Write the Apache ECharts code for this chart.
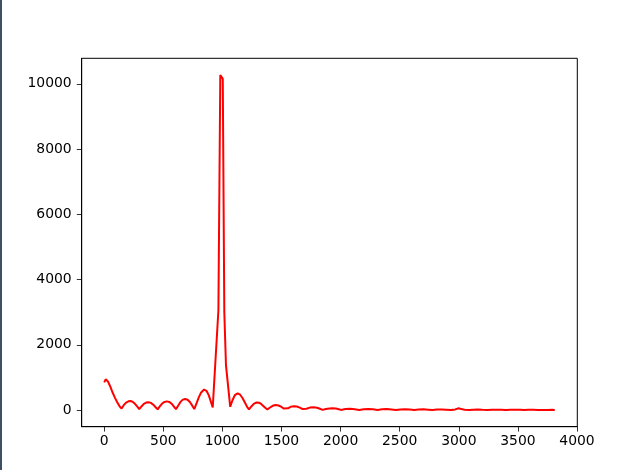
<!DOCTYPE html>
<html>
<head>
<meta charset="utf-8">
<script src="https://cdn.jsdelivr.net/npm/echarts@6/dist/echarts.min.js"></script>
<style>
  html, body { margin: 0; padding: 0; background: #ffffff; }
  #chart { width: 618px; height: 470px; }
</style>
</head>
<body>
<div id="chart"></div>
<script>
// Frequency axis values (x)
var freq = [
  0, 12, 30, 50, 70, 90, 110, 130, 147,
  165, 185, 205, 222, 240, 260, 280, 296,
  315, 335, 355, 374, 395, 415, 435, 452,
  470, 490, 510, 530, 550, 570, 590, 607,
  625, 645, 665, 685, 705, 725, 745, 762,
  780, 800, 820, 845, 865, 885, 905, 918,
  966, 982, 1003, 1016, 1030, 1066,
  1085, 1105, 1129, 1150, 1170, 1190, 1210, 1225,
  1245, 1265, 1290, 1310, 1330, 1355, 1380,
  1400, 1425, 1450, 1475, 1500, 1520, 1535,
  1555, 1580, 1605, 1630, 1655, 1675, 1690,
  1710, 1740, 1770, 1800, 1825, 1848,
  1875, 1905, 1930, 1960, 1985, 2003,
  2040, 2080, 2120, 2158, 2195, 2235, 2275, 2313,
  2350, 2390, 2430, 2468, 2505, 2545, 2585, 2623,
  2660, 2700, 2740, 2778, 2815, 2855, 2895, 2933,
  2970, 3000, 3020, 3050, 3088, 3120, 3160, 3200, 3243,
  3280, 3320, 3360, 3398, 3440, 3480, 3520, 3553,
  3590, 3630, 3670, 3708, 3750, 3790, 3812
];
// Magnitude values (y)
var magnitude = [
  848, 940, 885, 730, 545, 380, 240, 115, 45,
  150, 230, 268, 276, 255, 192, 102, 28,
  110, 190, 230, 238, 220, 165, 85, 22,
  110, 200, 250, 266, 250, 195, 105, 25,
  130, 250, 320, 340, 318, 245, 135, 30,
  200, 390, 540, 628, 590, 450, 225, 80,
  3060, 10270, 10150, 3000, 1380, 100,
  300, 455, 511, 470, 370, 230, 90, 20,
  110, 190, 235, 225, 180, 95, 15,
  70, 130, 155, 140, 95, 45, 10,
  55, 105, 120, 110, 75, 35, 8,
  40, 75, 85, 72, 40, 5,
  30, 50, 55, 45, 22, 5,
  30, 42, 28, 4, 28, 36, 22, 4,
  24, 30, 18, 3, 20, 26, 15, 3,
  16, 22, 12, 3, 14, 20, 12, 4,
  20, 55, 30, 12, 3, 10, 14, 8, 2,
  8, 12, 7, 2, 7, 10, 6, 2,
  6, 8, 5, 2, 5, 6, 5
];
// Tick labels
var xTicks = [0, 500, 1000, 1500, 2000, 2500, 3000, 3500, 4000];
var yTicks = [0, 2000, 4000, 6000, 8000, 10000];

var points = freq.map(function (f, i) { return [f, magnitude[i]]; });

var chart = echarts.init(document.getElementById('chart'), null, { renderer: 'canvas' });
var labelFont = { color: '#000000', fontFamily: 'DejaVu Sans', fontSize: 13.9 };
function plain(v) { return String(v); }

chart.setOption({
  animation: false,
  backgroundColor: '#ffffff',
  graphic: [{
    type: 'rect',
    left: 0, top: 0,
    shape: { x: 0, y: 0, width: 2, height: 470 },
    style: { fill: '#3e4f64' },
    silent: true
  }],
  grid: {
    left: 81.7, right: 40.7, top: 58.3, bottom: 43.3,
    show: true, borderColor: '#000000', borderWidth: 1, backgroundColor: 'transparent'
  },
  xAxis: {
    type: 'value',
    min: -190.6, max: 4002.6,
    splitLine: { show: false },
    axisLine: { show: true, onZero: false, lineStyle: { color: '#000000', width: 1 } },
    axisTick: { show: true, inside: false, length: 4.9, customValues: xTicks, lineStyle: { color: '#000000', width: 0.8 } },
    axisLabel: Object.assign({ margin: 8, customValues: xTicks, formatter: plain }, labelFont)
  },
  yAxis: {
    type: 'value',
    min: -510, max: 10780,
    splitLine: { show: false },
    axisLine: { show: true, onZero: false, lineStyle: { color: '#000000', width: 1 } },
    axisTick: { show: true, inside: false, length: 4.9, customValues: yTicks, lineStyle: { color: '#000000', width: 0.8 } },
    axisLabel: Object.assign({ margin: 10, customValues: yTicks, formatter: plain }, labelFont)
  },
  series: [{
    type: 'line',
    data: points,
    showSymbol: false,
    symbol: 'none',
    smooth: false,
    clip: true,
    lineStyle: { color: '#ff0000', width: 2 },
    itemStyle: { color: '#ff0000' }
  }]
});
</script>
</body>
</html>
